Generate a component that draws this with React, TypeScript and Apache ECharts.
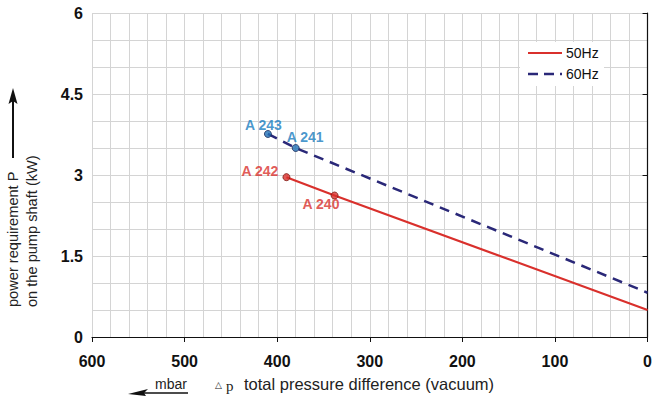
import React, { useEffect, useRef } from "react";
import * as echarts from "echarts";

const xTicks = [600, 500, 400, 300, 200, 100, 0];
const yTicks = [0, 1.5, 3, 4.5, 6];
const pressure50 = [390, 338, 0];
const power50 = [2.96, 2.62, 0.5];
const pressure60 = [410, 380, 0];
const power60 = [3.76, 3.5, 0.82];
const labels50 = ["A 242", "A 240"];
const labels60 = ["A 243", "A 241"];
const seriesNames = ["50Hz", "60Hz"];

const RED = "#d9302c";
const NAVY = "#2a2878";
const BLUE = "#1a7dc0";
const FONT = "Liberation Sans, Arial, sans-serif";

export default function App() {
  const ref = useRef<HTMLDivElement>(null);
  useEffect(() => {
    document.body.style.margin = "0";
    const chart = echarts.init(ref.current!, null, { renderer: "svg" });
    const line50 = pressure50.map((p, i) => [p, power50[i]]);
    const line60 = pressure60.map((p, i) => [p, power60[i]]);
    const pts50 = labels50.map((l, i) => ({ value: [pressure50[i], power50[i]], name: l }));
    const pts60 = labels60.map((l, i) => ({ value: [pressure60[i], power60[i]], name: l }));
    const labelPos50 = [{ position: [-41, -9] }, { position: [-28, 5] }];
    const labelPos60 = [{ position: [-19, -12] }, { position: [-5, -14] }];
    const lbl = {
      show: true,
      formatter: "{b}",
      fontWeight: "bold",
      fontSize: 14,
      fontFamily: FONT,
    };
    chart.setOption({
      animation: false,
      textStyle: { fontFamily: FONT },
      grid: { left: 92, right: 2, top: 13, bottom: 65 },
      xAxis: {
        type: "value",
        inverse: true,
        min: 0,
        max: 600,
        interval: 100,
        axisLine: { show: true, lineStyle: { color: "#111", width: 1.2 } },
        axisTick: { show: true, length: 5, lineStyle: { color: "#111" } },
        axisLabel: {
          margin: 16,
          fontSize: 16,
          fontWeight: "bold",
          color: "#111",
          fontFamily: FONT,
          formatter: (v: number) => (xTicks.includes(v) ? String(v) : ""),
        },
        splitLine: { show: true, lineStyle: { color: "#d4d4d4", width: 1 } },
        minorTick: { show: false, splitNumber: 5 },
        minorSplitLine: { show: true, lineStyle: { color: "#d4d4d4", width: 1 } },
      },
      yAxis: {
        type: "value",
        min: 0,
        max: 6,
        interval: 1.5,
        axisLine: { show: true, lineStyle: { color: "#111", width: 1.2 } },
        axisTick: { show: true, length: 5, lineStyle: { color: "#111" } },
        axisLabel: {
          margin: 9,
          fontSize: 16,
          fontWeight: "bold",
          color: "#111",
          fontFamily: FONT,
          formatter: (v: number) => (yTicks.includes(v) ? String(v) : ""),
        },
        splitLine: { show: true, lineStyle: { color: "#d4d4d4", width: 1 } },
        minorTick: { show: false, splitNumber: 3 },
        minorSplitLine: { show: true, lineStyle: { color: "#d4d4d4", width: 1 } },
      },
      series: [
        {
          name: seriesNames[0],
          type: "line",
          data: line50,
          symbol: "none",
          lineStyle: { color: RED, width: 2.2 },
          itemStyle: { color: RED },
          z: 3,
        },
        {
          name: seriesNames[1],
          type: "line",
          data: line60,
          symbol: "none",
          lineStyle: { color: NAVY, width: 2.5, type: [10, 7] },
          itemStyle: { color: NAVY },
          z: 3,
        },
        {
          name: "pts50",
          type: "scatter",
          symbolSize: 7,
          z: 5,
          itemStyle: { color: RED, borderColor: "#7a1a14", borderWidth: 1 },
          data: pts50.map((d, i) => ({
            ...d,
            label: { ...lbl, color: RED, ...labelPos50[i] },
          })),
        },
        {
          name: "pts60",
          type: "scatter",
          symbolSize: 7,
          z: 5,
          itemStyle: { color: "#1f6fb5", borderColor: "#1a2a5a", borderWidth: 1 },
          data: pts60.map((d, i) => ({
            ...d,
            label: { ...lbl, color: BLUE, ...labelPos60[i] },
          })),
        },
      ],
      graphic: [
        {
          type: "rect",
          shape: { x: 520, y: 42, width: 84, height: 44 },
          style: { fill: "#ffffff" },
          z: 10,
        },
        {
          type: "line",
          shape: { x1: 528, y1: 53, x2: 562, y2: 53 },
          style: { stroke: RED, lineWidth: 2.2 },
          z: 11,
        },
        {
          type: "text",
          x: 566,
          y: 53,
          style: {
            text: seriesNames[0],
            font: "14px " + FONT,
            fill: "#111",
            textVerticalAlign: "middle",
          },
          z: 11,
        },
        {
          type: "line",
          shape: { x1: 528, y1: 74, x2: 562, y2: 74 },
          style: { stroke: NAVY, lineWidth: 2.5, lineDash: [10, 6] },
          z: 11,
        },
        {
          type: "text",
          x: 566,
          y: 74,
          style: {
            text: seriesNames[1],
            font: "14px " + FONT,
            fill: "#111",
            textVerticalAlign: "middle",
          },
          z: 11,
        },
        {
          type: "text",
          x: 13,
          y: 307,
          rotation: Math.PI / 2,
          style: {
            text: "power requirement P",
            font: "14.6px " + FONT,
            fill: "#222",
            textVerticalAlign: "middle",
          },
        },
        {
          type: "text",
          x: 32,
          y: 307,
          rotation: Math.PI / 2,
          style: {
            text: "on the pump shaft (kW)",
            font: "14.6px " + FONT,
            fill: "#222",
            textVerticalAlign: "middle",
          },
        },
        {
          type: "line",
          shape: { x1: 13, y1: 158, x2: 13, y2: 100 },
          style: { stroke: "#111", lineWidth: 2 },
        },
        {
          type: "polygon",
          shape: { points: [[13, 88], [8.5, 104], [13, 101], [17.5, 104]] },
          style: { fill: "#111" },
        },
        {
          type: "text",
          x: 155,
          y: 384,
          style: {
            text: "mbar",
            font: "14px " + FONT,
            fill: "#222",
            textVerticalAlign: "middle",
          },
        },
        {
          type: "line",
          shape: { x1: 188, y1: 393, x2: 140, y2: 393 },
          style: { stroke: "#111", lineWidth: 1.5 },
        },
        {
          type: "polygon",
          shape: { points: [[128, 394], [148, 389], [144, 393], [146, 396]] },
          style: { fill: "#111" },
        },
        {
          type: "text",
          x: 215,
          y: 385,
          style: {
            text: "△",
            font: "9px DejaVu Sans, sans-serif",
            fill: "#222",
            textVerticalAlign: "middle",
          },
        },
        {
          type: "text",
          x: 226,
          y: 386,
          style: {
            text: "p",
            font: "15px Liberation Serif, serif",
            fill: "#222",
            textVerticalAlign: "middle",
          },
        },
        {
          type: "text",
          x: 244,
          y: 384,
          style: {
            text: "total pressure difference (vacuum)",
            font: "16.5px " + FONT,
            fill: "#222",
            textVerticalAlign: "middle",
          },
        },
      ],
    });
    return () => chart.dispose();
  }, []);
  return (
    <div
      ref={ref}
      style={{ position: "absolute", left: 0, top: 0, width: 655, height: 402, background: "#fff" }}
    />
  );
}
